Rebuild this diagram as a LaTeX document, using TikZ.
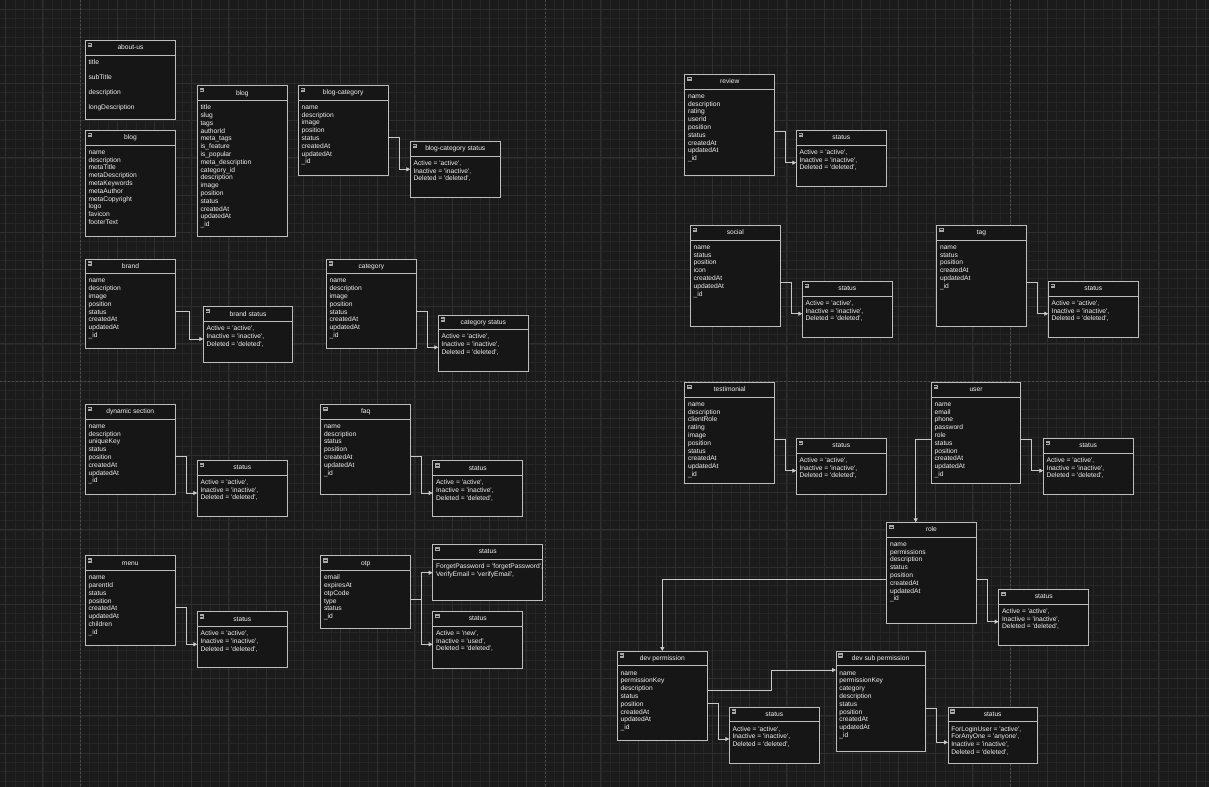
\documentclass[tikz,border=0pt]{standalone}
\usepackage{fontspec}
\setmainfont{Liberation Sans}
\usetikzlibrary{arrows.meta,calc}

\definecolor{canvas}{HTML}{1B1B1B}
\definecolor{gridminor}{HTML}{252525}
\definecolor{gridmajor}{HTML}{2E2E2E}
\definecolor{pagebreak}{HTML}{4C4C4C}
\definecolor{boxfill}{HTML}{161616}
\definecolor{boxline}{HTML}{BDBDBD}
\definecolor{ink}{HTML}{F2F2F2}
\definecolor{wire}{HTML}{C8C8C8}
\definecolor{iconfill}{HTML}{A8A8A8}
\definecolor{icondark}{HTML}{202020}

% row text: 5pt type with a chosen line pitch
\newcommand\rowfont[1]{\fontsize{5}{#1}\selectfont}
\newcommand\q[1]{\textquotesingle#1\textquotesingle}

\tikzset{
  tbl/.style={draw=boxline, fill=boxfill, line width=0.6pt, anchor=north west, inner sep=0pt, outer sep=0pt},
  tblsep/.style={draw=boxline, line width=0.6pt},
  tbltitle/.style={text=ink, font=\rowfont{6}, anchor=base, inner sep=0pt},
  tblicon/.style={draw=none, fill=iconfill, minimum size=3.4pt, inner sep=0pt},
  icondash/.style={draw=icondark, line width=0.5pt},
  tblrows/.style={text=ink, anchor=north west, inner sep=0pt, align=left},
  conn/.style={draw=wire, line width=0.6pt, -{Triangle[length=3pt,width=3pt]}},
  gridthin/.style={draw=gridminor, line width=0.4pt},
  gridthick/.style={draw=gridmajor, line width=0.5pt},
  pageline/.style={draw=pagebreak, line width=0.6pt, dash pattern=on 1.5pt off 1.5pt},
}

% entity box: [line pitch] name, x1, y1, x2, y2, title, rows
\newcommand\erbox[8][5.85pt]{%
  \node[tbl, minimum width={(#5-#3)*0.75pt}, minimum height={(#6-#4)*0.75pt}] (#2) at (#3,#4) {};
  \draw[tblsep] ([yshift=-11pt]#2.north west) -- ([yshift=-11pt]#2.north east);
  \node[tbltitle] (#2-title) at ([yshift=-7pt]#2.north) {#7};
  \node[tblicon] (#2-icon) at ([xshift=3.4pt,yshift=-3.4pt]#2.north west) {};
  \draw[icondash] ([xshift=0.7pt]#2-icon.west) -- ([xshift=-0.7pt]#2-icon.east);
  \node[tblrows, font=\rowfont{#1}] (#2-rows) at ([xshift=2.3pt,yshift=-13.2pt]#2.north west) {\rule{0pt}{4.6pt}#8};
}

% elbow connector: source, drop from source top, run-out, target, drop from target top
\newcommand\link[5]{%
  \draw[conn] ([yshift={-(#2)*0.75pt}]#1.north east) -- ++(#3,0) |- ([yshift={-(#5)*0.75pt}]#4.north west);
}

\newcommand\stat{Active = \q{active},\\Inactive = \q{inactive},\\Deleted = \q{deleted},}
\newcommand\common{name\\description\\image\\position\\status\\createdAt\\updatedAt\\\_id}

\begin{document}
\begin{tikzpicture}[x=0.75pt,y=-0.75pt]
\useasboundingbox (0,0) rectangle (1209,787);
\fill[canvas] (0,0) rectangle (1209,787);

% background grid
\begin{scope}
  \clip (0,0) rectangle (1209,787);
  \foreach \i in {-9,...,122} \draw[gridthin] (80+\i*9.3,0) -- (80+\i*9.3,787);
  \foreach \j in {-41,...,44} \draw[gridthin] (0,381+\j*9.3) -- (1209,381+\j*9.3);
  \foreach \i in {-3,...,31} \draw[gridthick] (80+\i*37.2,0) -- (80+\i*37.2,787);
  \foreach \j in {-11,...,11} \draw[gridthick] (0,381+\j*37.2) -- (1209,381+\j*37.2);
  \draw[pageline] (80,0) -- (80,787);
  \draw[pageline] (545,0) -- (545,787);
  \draw[pageline] (1010,0) -- (1010,787);
  \draw[pageline] (0,381) -- (1209,381);
\end{scope}

% ---- content entities
\erbox[11.25pt]{aboutus}{85.3}{40.3}{175.7}{119}{about-us}{title\\subTitle\\description\\longDescription}
\erbox{blogmeta}{85.3}{130.3}{175.7}{236.7}{blog}{name\\description\\metaTitle\\metaDescription\\metaKeywords\\metaAuthor\\metaCopyright\\logo\\favicon\\footerText}
\erbox{blog}{197.3}{85.7}{287.3}{236.7}{blog}{title\\slug\\tags\\authorId\\meta\_tags\\is\_feature\\is\_popular\\meta\_description\\category\_id\\description\\image\\position\\status\\createdAt\\updatedAt\\\_id}
\erbox{blogcat}{298.3}{85.3}{388}{175.3}{blog-category}{\common}
\erbox{blogcatst}{410.3}{141.3}{500.3}{197.3}{blog-category status}{\stat}
\erbox{brand}{85.3}{259}{175.7}{348}{brand}{\common}
\erbox{brandst}{203.3}{306.7}{292.7}{362.7}{brand status}{\stat}
\erbox{category}{326.3}{259}{416.3}{348.3}{category}{\common}
\erbox{categoryst}{438.3}{315}{528.3}{371}{category status}{\stat}
\erbox{dyn}{85.3}{404.3}{175.3}{494.3}{dynamic section}{name\\description\\uniqueKey\\status\\position\\createdAt\\updatedAt\\\_id}
\erbox{dynst}{197.3}{460.3}{287.3}{516.7}{status}{\stat}
\erbox{faq}{320.7}{404.3}{410.7}{494.3}{faq}{name\\description\\status\\position\\createdAt\\updatedAt\\\_id}
\erbox{faqst}{432.7}{460.7}{522.7}{516.7}{status}{\stat}
\erbox{menu}{85.3}{555.7}{175.3}{645.3}{menu}{name\\parentId\\status\\position\\createdAt\\updatedAt\\children\\\_id}
\erbox{menust}{197.3}{611.7}{287.3}{667.3}{status}{\stat}
\erbox{otp}{320.7}{555.7}{410.7}{628.7}{otp}{email\\expiresAt\\otpCode\\type\\status\\\_id}
\erbox{otptype}{432.7}{544.3}{542.7}{600.7}{status}{ForgetPassword = \q{forgetPassword},\\VerifyEmail = \q{verifyEmail},}
\erbox{otpst}{432.7}{611.3}{522.7}{668}{status}{Active = \q{new},\\Inactive = \q{used},\\Deleted = \q{deleted},}

% ---- people and access entities
\erbox{review}{684.7}{74.3}{774.7}{175.3}{review}{name\\description\\rating\\userId\\position\\status\\createdAt\\updatedAt\\\_id}
\erbox{reviewst}{796.3}{130.3}{886.3}{186.7}{status}{\stat}
\erbox{social}{690.3}{225.3}{780.3}{326.3}{social}{name\\status\\position\\icon\\createdAt\\updatedAt\\\_id}
\erbox{socialst}{802.3}{281.3}{892.3}{337.3}{status}{\stat}
\erbox{tag}{936.7}{225.3}{1026.3}{326.3}{tag}{name\\status\\position\\createdAt\\updatedAt\\\_id}
\erbox{tagst}{1048.3}{281.3}{1138.3}{337.3}{status}{\stat}
\erbox{testimonial}{684.7}{382.3}{774.7}{483.3}{testimonial}{name\\description\\clientRole\\rating\\image\\position\\status\\createdAt\\updatedAt\\\_id}
\erbox{testimonialst}{796.3}{438.3}{886.3}{494}{status}{\stat}
\erbox{user}{931.3}{382.3}{1020.7}{483.3}{user}{name\\email\\phone\\password\\role\\status\\position\\createdAt\\updatedAt\\\_id}
\erbox{userst}{1043.3}{438.3}{1133}{494}{status}{\stat}
\erbox{role}{886.7}{522.3}{976}{623}{role}{name\\permissions\\description\\status\\position\\createdAt\\updatedAt\\\_id}
\erbox{rolest}{998.7}{589.3}{1088.7}{645.3}{status}{\stat}
\erbox{devperm}{617.3}{651}{707.3}{740.7}{dev permission}{name\\permissionKey\\description\\status\\position\\createdAt\\updatedAt\\\_id}
\erbox{devpermst}{729.3}{707}{819.3}{763}{status}{\stat}
\erbox{devsub}{836}{651}{925.3}{751.7}{dev sub permission}{name\\permissionKey\\category\\description\\status\\position\\createdAt\\updatedAt\\\_id}
\erbox{devsubst}{948}{707}{1037.3}{763}{status}{ForLoginUser = \q{active},\\ForAnyOne = \q{anyone},\\Inactive = \q{inactive},\\Deleted = \q{deleted},}

% ---- connectors
\link{blogcat}{52}{11}{blogcatst}{28}
\link{brand}{52.3}{13.6}{brandst}{32.3}
\link{category}{52.3}{10.7}{categoryst}{32.3}
\link{dyn}{52.4}{11}{dynst}{32.7}
\link{faq}{52.4}{11}{faqst}{32.3}
\link{menu}{52}{11}{menust}{32.6}
\link{otp}{44}{11}{otptype}{28.4}
\link{otp}{44}{11}{otpst}{33}
\link{review}{57.4}{10.6}{reviewst}{32.4}
\link{social}{57.4}{10.7}{socialst}{32.4}
\link{tag}{57.4}{10.7}{tagst}{32.4}
\link{testimonial}{57.4}{10.6}{testimonialst}{32.4}
\link{user}{57.4}{11}{userst}{32.4}
\link{role}{57.4}{11}{rolest}{32.4}
\link{devperm}{52}{11}{devpermst}{32}
\link{devperm}{39.3}{64.4}{devsub}{19}
\link{devsub}{57.7}{11}{devsubst}{35.3}
\draw[conn] ([yshift={-57.4*0.75pt}]user.north west) -| ([xshift={29*0.75pt}]role.north west);
\draw[conn] ([yshift={-57.4*0.75pt}]role.north west) -| ([xshift={45*0.75pt}]devperm.north west);
\end{tikzpicture}
\end{document}
